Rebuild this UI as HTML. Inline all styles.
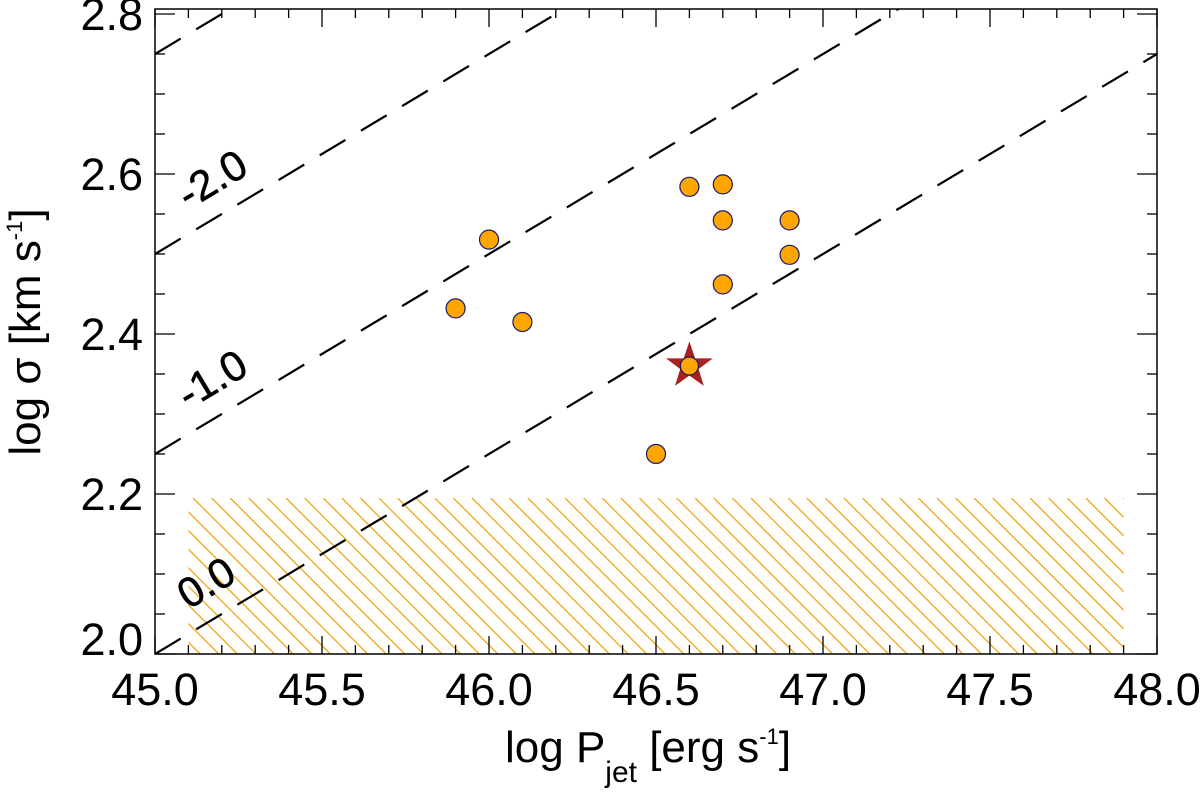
<!DOCTYPE html>
<html><head><meta charset="utf-8"><style>
html,body{margin:0;padding:0;background:#fff;}
svg{display:block;font-family:"Liberation Sans",sans-serif;}
</style></head><body>
<svg id="chart" width="1200" height="794" viewBox="0 0 1200 794" xmlns="http://www.w3.org/2000/svg">
<defs>
<clipPath id="plotclip"><rect x="155" y="9" width="1002" height="645"/></clipPath>
<clipPath id="hatchclip"><rect id="hatchrect" x="0" y="0" width="0" height="0"/></clipPath>
</defs>
<g id="hatch" clip-path="url(#hatchclip)"></g>
<g id="lines" clip-path="url(#plotclip)"></g>
<g id="labels"></g>
<g id="points"></g>
<g id="axes"></g>
<text x="505" y="762" font-size="44" text-anchor="start">log P<tspan font-size="30" dy="20">jet</tspan><tspan dy="-20"> [erg s</tspan><tspan font-size="22" dy="-18">-1</tspan><tspan dy="18">]</tspan></text>
<text transform="translate(40,332) rotate(-90)" font-size="44" text-anchor="middle">log σ [km s<tspan font-size="22" dy="-18">-1</tspan><tspan dy="18">]</tspan></text>
</svg>
<script>
const xTicks=[45.0,45.5,46.0,46.5,47.0,47.5,48.0];
const xTickLabels=["45.0","45.5","46.0","46.5","47.0","47.5","48.0"];
const yTicks=[2.0,2.2,2.4,2.6,2.8];
const yTickLabels=["2.0","2.2","2.4","2.6","2.8"];
const pointsX=[45.9,46.0,46.1,46.5,46.6,46.7,46.7,46.7,46.9,46.9];
const pointsY=[2.432,2.518,2.415,2.25,2.584,2.587,2.542,2.462,2.542,2.499];
const starX=[46.6];
const starY=[2.36];
const lineOffsets=[0,0.25,0.5,0.75];
const lineLabels=["0.0","-1.0","-2.0",""];
const hatchX=[45.1,47.9];
const hatchY=[2.0,2.195];

const NS="http://www.w3.org/2000/svg";
const L=155,R=1157,T=9,B=654;
const xmin=45,xmax=48,ymin=2.0,ymax=2.0+(B-T)/800;
const sx=v=>L+(v-xmin)/(xmax-xmin)*(R-L);
const sy=v=>B-(v-ymin)/(ymax-ymin)*(B-T);
function mk(tag,attrs,parent){const e=document.createElementNS(NS,tag);for(const k in attrs)e.setAttribute(k,attrs[k]);parent.appendChild(e);return e;}

const hr=document.getElementById('hatchrect');
hr.setAttribute('x',sx(hatchX[0]));hr.setAttribute('y',sy(hatchY[1]));
hr.setAttribute('width',sx(hatchX[1])-sx(hatchX[0]));hr.setAttribute('height',sy(hatchY[0])-sy(hatchY[1]));
const hg=document.getElementById('hatch');
for(let x0=sx(hatchX[0])-200;x0<sx(hatchX[1])+10;x0+=18.6){
  const l=mk('line',{x1:x0,y1:sy(hatchY[1]),x2:x0+(sy(hatchY[0])-sy(hatchY[1])),y2:sy(hatchY[0]),stroke:'#f0a818','stroke-width':1.3},hg);
  
  
}
const lg=document.getElementById('lines'),lb=document.getElementById('labels');
const ang=Math.atan2(sy(2.0)-sy(2.25),sx(46)-sx(45))*180/Math.PI;
lineOffsets.forEach((o,i)=>{
  const l=mk('line',{x1:sx(45),y1:sy(2.0+o),x2:sx(48),y2:sy(2.75+o),stroke:'#000','stroke-width':2.2,'stroke-dasharray':'30 18'},lg);
  
  
  if(lineLabels[i]){
    const px=45.1,py=2.0+o+0.25*(px-45)+0.03;
    const t=mk('text',{x:sx(px),y:sy(py),'font-size':42,stroke:'#000','stroke-width':0.6,transform:`rotate(${-ang} ${sx(px)} ${sy(py)})`},lb);
    t.textContent=lineLabels[i];
    
    
  }
});
const pg=document.getElementById('points');
starX.forEach((v,i)=>{
  const cx=sx(v),cy=sy(starY[i]);let pts=[];
  for(let k=0;k<10;k++){const r=k%2?9:23;const a=-Math.PI/2+k*Math.PI/5;pts.push((cx+r*Math.cos(a)).toFixed(1)+','+(cy+r*Math.sin(a)).toFixed(1));}
  const s=mk('polygon',{points:pts.join(' '),fill:'#a82020',stroke:'#a82020'},pg);
  
  
  const c=mk('circle',{cx:cx,cy:cy,r:9,fill:'#ffa500',stroke:'#1a1a6a','stroke-width':1.2},pg);
  
  
});
pointsX.forEach((v,i)=>{
  const c=mk('circle',{cx:sx(v),cy:sy(pointsY[i]),r:9.5,fill:'#ffa500',stroke:'#1a1a6a','stroke-width':1.2},pg);
  
  
});
const ag=document.getElementById('axes');
const fr=mk('rect',{x:L,y:T,width:R-L,height:B-T,fill:'none',stroke:'#000','stroke-width':1.5},ag);


for(let v=45.0;v<=48.001;v+=0.1){
  const major=Math.abs(v*2-Math.round(v*2))<1e-6;const len=major?18:9;
  mk('line',{x1:sx(v),y1:B,x2:sx(v),y2:B-len,stroke:'#000','stroke-width':1.3},ag);
  mk('line',{x1:sx(v),y1:T,x2:sx(v),y2:T+len,stroke:'#000','stroke-width':1.3},ag);
}
for(let v=2.0;v<=ymax;v+=0.05){
  const major=Math.abs(v*5-Math.round(v*5))<1e-6;const len=major?20:10;
  mk('line',{x1:L,y1:sy(v),x2:L+len,y2:sy(v),stroke:'#000','stroke-width':1.3},ag);
  mk('line',{x1:R,y1:sy(v),x2:R-len,y2:sy(v),stroke:'#000','stroke-width':1.3},ag);
}
xTicks.forEach((v,i)=>{
  const t=mk('text',{x:sx(v),y:705,'font-size':45,'text-anchor':'middle'},ag);
  t.textContent=xTickLabels[i];
  
  
});
yTicks.forEach((v,i)=>{
  const t=mk('text',{x:143,y:Math.min(sy(v)+16,655),'font-size':45,'text-anchor':'end'},ag);
  t.textContent=yTickLabels[i];
  
  
});
</script>
</body></html>
